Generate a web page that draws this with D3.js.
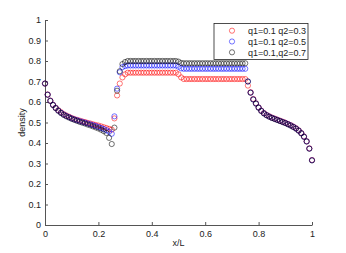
<!DOCTYPE html>
<html lang="en">
<head>
  <meta charset="UTF-8" />
  <title>density vs x/L</title>
  <script src="https://d3js.org/d3.v7.min.js"></script>
  <style>
    body { margin: 0; padding: 0; background: white; }
    svg { display: block; font-family: "Liberation Sans", Arial, sans-serif; }
  </style>
</head>
<body>
  <svg id="chart" width="346" height="253"></svg>
  <script>
    // x positions are 0, 0.01, ... 1 (101 samples)
    const xTicks = [0, 0.2, 0.4, 0.6, 0.8, 1];
    const yTicks = [0, 0.1, 0.2, 0.3, 0.4, 0.5, 0.6, 0.7, 0.8, 0.9, 1];
    const seriesNames = ["q1=0.1 q2=0.3", "q1=0.1 q2=0.5", "q1=0.1,q2=0.7"];

    const densQ3 = [
      0.690,0.637,0.607,0.587,0.572,0.560,0.550,0.541,0.534,0.528,
      0.522,0.517,0.513,0.509,0.505,0.502,0.498,0.495,0.491,0.488,
      0.485,0.481,0.477,0.473,0.469,0.465,0.520,0.632,0.690,0.720,
      0.735,0.743,0.743,0.743,0.743,0.743,0.743,0.743,0.743,0.743,
      0.743,0.743,0.743,0.743,0.743,0.743,0.743,0.743,0.743,0.743,
      0.735,0.720,0.712,0.712,0.712,0.712,0.712,0.712,0.712,0.712,
      0.712,0.712,0.712,0.712,0.712,0.712,0.712,0.712,0.712,0.712,
      0.712,0.712,0.712,0.712,0.712,0.712,0.680,0.648,0.615,0.594,
      0.574,0.558,0.546,0.537,0.530,0.524,0.519,0.514,0.509,0.504,
      0.499,0.493,0.487,0.480,0.472,0.462,0.449,0.432,0.409,0.374,
      0.317
    ];
    const densQ5 = [
      0.690,0.636,0.606,0.586,0.571,0.558,0.548,0.539,0.532,0.526,
      0.520,0.515,0.511,0.507,0.503,0.499,0.495,0.491,0.487,0.483,
      0.478,0.473,0.468,0.462,0.455,0.445,0.530,0.665,0.745,0.770,
      0.775,0.778,0.778,0.778,0.778,0.778,0.778,0.778,0.778,0.778,
      0.778,0.778,0.778,0.778,0.778,0.778,0.778,0.778,0.778,0.778,
      0.772,0.764,0.762,0.762,0.762,0.762,0.762,0.762,0.762,0.762,
      0.762,0.762,0.762,0.762,0.762,0.762,0.762,0.762,0.762,0.762,
      0.762,0.762,0.762,0.762,0.762,0.762,0.700,0.646,0.613,0.593,
      0.573,0.557,0.545,0.536,0.529,0.523,0.518,0.513,0.508,0.503,
      0.498,0.492,0.486,0.479,0.471,0.461,0.448,0.431,0.408,0.373,
      0.316
    ];
    const densQ7 = [
      0.690,0.635,0.605,0.585,0.570,0.557,0.546,0.537,0.530,0.524,
      0.518,0.513,0.508,0.503,0.499,0.495,0.490,0.486,0.481,0.476,
      0.471,0.465,0.458,0.449,0.425,0.395,0.475,0.655,0.750,0.785,
      0.795,0.800,0.800,0.800,0.800,0.800,0.800,0.800,0.800,0.800,
      0.800,0.800,0.800,0.800,0.800,0.800,0.800,0.800,0.800,0.800,
      0.797,0.790,0.789,0.789,0.789,0.789,0.789,0.789,0.789,0.789,
      0.789,0.789,0.789,0.789,0.789,0.789,0.789,0.789,0.789,0.789,
      0.789,0.789,0.789,0.789,0.789,0.789,0.700,0.645,0.612,0.592,
      0.572,0.556,0.544,0.535,0.528,0.522,0.517,0.512,0.507,0.502,
      0.497,0.491,0.485,0.478,0.470,0.460,0.447,0.430,0.407,0.372,
      0.315
    ];
    const colors = ["#ff0000", "#0000ff", "#000000"];

    const margin = { left: 45, right: 34, top: 20, bottom: 28 };
    const width = 346, height = 253;
    const svg = d3.select("#chart");

    const x = d3.scaleLinear().domain([0, 1]).range([margin.left, width - margin.right]);
    const y = d3.scaleLinear().domain([0, 1]).range([height - margin.bottom, margin.top]);

    // axes (MATLAB style, ticks inward)
    const xAxis = svg.append("g")
      .attr("transform", `translate(0,${height - margin.bottom})`)
      .call(d3.axisBottom(x).tickValues(xTicks).tickFormat(d => String(d)).tickSizeInner(-3).tickSizeOuter(0).tickPadding(6));
    const yAxis = svg.append("g")
      .attr("transform", `translate(${margin.left},0)`)
      .call(d3.axisLeft(y).tickValues(yTicks).tickFormat(d => String(d)).tickSizeInner(-3).tickSizeOuter(0).tickPadding(4));
    [xAxis, yAxis].forEach(a => {
      a.select(".domain").attr("stroke", "#555");
      a.selectAll(".tick line").attr("stroke", "#555");
      a.selectAll(".tick text").attr("fill", "#222").style("font-size", "9px");
    });

    svg.append("text")
      .attr("x", x(0.5)).attr("y", 246)
      .attr("text-anchor", "middle")
      .attr("fill", "#222").style("font-size", "9px")
      .text("x/L");
    svg.append("text")
      .attr("transform", `translate(25,${y(0.5)}) rotate(-90)`)
      .attr("text-anchor", "middle")
      .attr("fill", "#222").style("font-size", "9px")
      .text("density");

    // data
    const allSeries = [densQ3, densQ5, densQ7];
    allSeries.forEach((vals, si) => {
      svg.append("g").selectAll("circle")
        .data(vals)
        .enter()
        .append("circle")
        .attr("cx", (d, i) => x(i / 100))
        .attr("cy", d => y(d))
        .attr("r", 2.6)
        .attr("fill", "none")
        .attr("stroke", colors[si])
        .attr("stroke-width", 0.55);
    });

    // legend
    const lg = svg.append("g");
    lg.append("rect")
      .attr("x", 214).attr("y", 23.5).attr("width", 94).attr("height", 36)
      .attr("fill", "white").attr("stroke", "#222").attr("stroke-width", 0.8);
    seriesNames.forEach((name, i) => {
      const yy = 30.7 + i * 10.8;
      lg.append("circle")
        .attr("cx", 232).attr("cy", yy).attr("r", 2.6)
        .attr("fill", "none").attr("stroke", colors[i]).attr("stroke-width", 0.55);
      lg.append("text")
        .attr("x", 248).attr("y", yy + 3.2)
        .attr("fill", "#222").style("font-size", "9px")
        .text(name);
    });
  </script>
</body>
</html>
